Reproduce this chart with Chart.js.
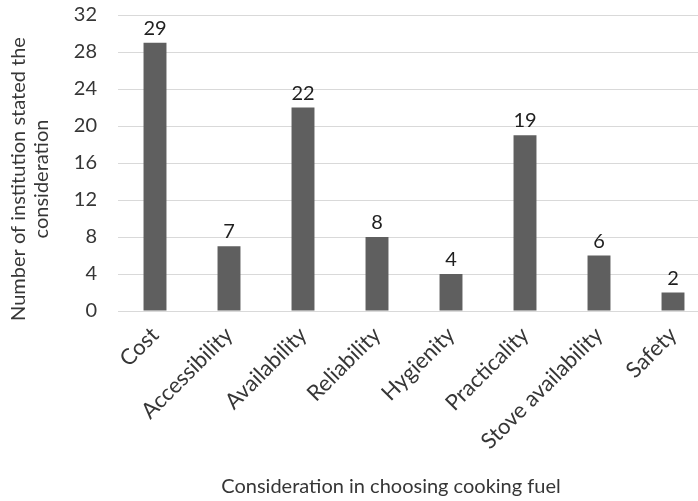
<!DOCTYPE html>
<html>
<head>
<meta charset="utf-8">
<script src="https://cdn.jsdelivr.net/npm/chart.js@4/dist/chart.umd.min.js"></script>
<style>
  html, body { margin: 0; padding: 0; background: #ffffff; overflow: hidden; }
  #wrap { width: 782px; height: 501px; }
</style>
</head>
<body>
<div id="wrap"><canvas id="chart" width="782" height="501"></canvas></div>
<script>
// Survey answers: how many institutions named each consideration
const categories = ['Cost', 'Accessibility', 'Availability', 'Reliability', 'Hygienity', 'Practicality', 'Stove availability', 'Safety'];
const institutionCounts = [29, 7, 22, 8, 4, 19, 6, 2];
const yTickValues = [0, 4, 8, 12, 16, 20, 24, 28, 32];
const xAxisTitle = 'Consideration in choosing cooking fuel';
const yAxisTitleLines = ['Number of institution stated the', 'consideration'];

const FONT_FAMILY = 'Lato, "Open Sans", "Liberation Sans", sans-serif';
const FONT_SIZE = 20;
const CATEGORY_FONT_SIZE = 22;
const AXIS_TEXT = '#363636';
const VALUE_TEXT = '#1f1f1f';
const BAR_COLOR = '#5f5f5f';
const GRID_COLOR = '#d9d9d9';

// Count printed above each bar
const valueLabels = {
  id: 'valueLabels',
  afterDatasetsDraw(chart) {
    const { ctx } = chart;
    const values = chart.data.datasets[0].data;
    ctx.save();
    ctx.font = `${FONT_SIZE}px ${FONT_FAMILY}`;
    ctx.fillStyle = VALUE_TEXT;
    ctx.textAlign = 'center';
    ctx.textBaseline = 'alphabetic';
    chart.getDatasetMeta(0).data.forEach((bar, i) => {
      ctx.fillText(String(values[i]), bar.x, bar.y - 8);
    });
    ctx.restore();
  }
};

// Axis titles: two-line vertical title on the left, single line under the category labels
const axisTitles = {
  id: 'axisTitles',
  afterDraw(chart) {
    const { ctx, chartArea } = chart;
    const lineHeight = 22.8;
    ctx.save();
    ctx.font = `${FONT_SIZE}px ${FONT_FAMILY}`;
    ctx.fillStyle = AXIS_TEXT;
    ctx.textAlign = 'center';
    ctx.textBaseline = 'middle';

    ctx.fillText(xAxisTitle, chart.width / 2, chart.height - 14);

    ctx.translate(19, (chartArea.top + chartArea.bottom) / 2 + 16);
    ctx.rotate(-Math.PI / 2);
    yAxisTitleLines.forEach((line, i) => ctx.fillText(line, 0, i * lineHeight));
    ctx.restore();
  }
};

new Chart(document.getElementById('chart'), {
  type: 'bar',
  data: {
    labels: categories,
    datasets: [{
      data: institutionCounts,
      backgroundColor: BAR_COLOR,
      borderWidth: 0,
      barPercentage: 0.31,
      categoryPercentage: 1
    }]
  },
  options: {
    responsive: false,
    devicePixelRatio: 1,
    animation: false,
    layout: { padding: { top: 0, right: 72, left: 0, bottom: 0 } },
    plugins: {
      legend: { display: false },
      tooltip: { enabled: false },
      title: { display: false }
    },
    scales: {
      x: {
        grid: { display: false },
        border: { display: true, color: GRID_COLOR, width: 1 },
        ticks: {
          color: AXIS_TEXT,
          font: { family: FONT_FAMILY, size: CATEGORY_FONT_SIZE },
          minRotation: 45,
          maxRotation: 45,
          autoSkip: false,
          padding: 3
        },
        afterFit(scale) { scale.height = 190; }
      },
      y: {
        min: 0,
        max: 32,
        grid: { color: GRID_COLOR, lineWidth: 1, drawTicks: true, tickLength: 18, tickColor: 'rgba(0,0,0,0)' },
        border: { display: false },
        ticks: {
          color: AXIS_TEXT,
          font: { family: FONT_FAMILY, size: FONT_SIZE },
          padding: 3
        },
        afterBuildTicks(scale) { scale.ticks = yTickValues.map(v => ({ value: v })); },
        afterFit(scale) { scale.width = 118; }
      }
    }
  },
  plugins: [valueLabels, axisTitles]
});
</script>
</body>
</html>
